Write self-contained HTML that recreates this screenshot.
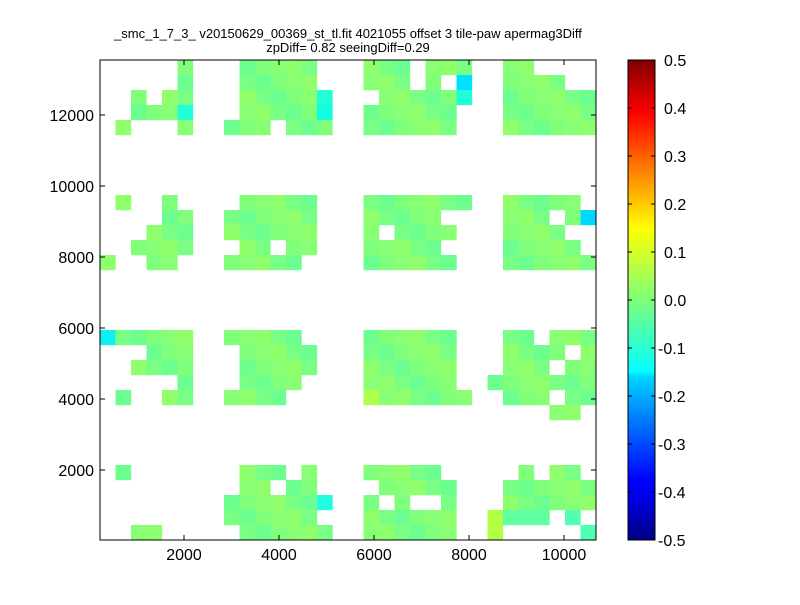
<!DOCTYPE html>
<html><head><meta charset="utf-8"><style>
body{margin:0;background:#fff;}
svg{font-family:"Liberation Sans",sans-serif;}
</style></head><body>
<svg id="s" width="800" height="600" xmlns="http://www.w3.org/2000/svg">
<defs><linearGradient id="jet" x1="0" y1="1" x2="0" y2="0">
<stop offset="0" stop-color="#000080"/><stop offset="0.11" stop-color="#0000ff"/>
<stop offset="0.125" stop-color="#0000ff"/><stop offset="0.34" stop-color="#00d4ff"/>
<stop offset="0.35" stop-color="#0ff"/><stop offset="0.5" stop-color="#7dff7a"/>
<stop offset="0.65" stop-color="#ff0"/><stop offset="0.89" stop-color="#f00"/>
<stop offset="1" stop-color="#800000"/></linearGradient></defs>
<rect width="800" height="600" fill="#fff"/>
<g id="cells"></g>
<rect x="100" y="60" width="496" height="480" fill="none" stroke="#000" stroke-width="1"/>
<g stroke="#000">
<line x1="184" y1="540" x2="184" y2="535"/><line x1="279" y1="540" x2="279" y2="535"/><line x1="374" y1="540" x2="374" y2="535"/><line x1="469" y1="540" x2="469" y2="535"/><line x1="564" y1="540" x2="564" y2="535"/>
<line x1="184" y1="60" x2="184" y2="65"/><line x1="279" y1="60" x2="279" y2="65"/><line x1="374" y1="60" x2="374" y2="65"/><line x1="469" y1="60" x2="469" y2="65"/><line x1="564" y1="60" x2="564" y2="65"/>
<line x1="100" y1="470" x2="105" y2="470"/><line x1="100" y1="399" x2="105" y2="399"/><line x1="100" y1="328" x2="105" y2="328"/><line x1="100" y1="257" x2="105" y2="257"/><line x1="100" y1="186" x2="105" y2="186"/><line x1="100" y1="115" x2="105" y2="115"/>
<line x1="596" y1="470" x2="591" y2="470"/><line x1="596" y1="399" x2="591" y2="399"/><line x1="596" y1="328" x2="591" y2="328"/><line x1="596" y1="257" x2="591" y2="257"/><line x1="596" y1="186" x2="591" y2="186"/><line x1="596" y1="115" x2="591" y2="115"/>
</g>
<g font-size="16" text-anchor="middle">
<text x="184" y="560">2000</text><text x="279" y="560">4000</text><text x="374" y="560">6000</text><text x="469" y="560">8000</text><text x="564" y="560">10000</text>
</g>
<g font-size="16" text-anchor="end">
<text x="94" y="476">2000</text><text x="94" y="405">4000</text><text x="94" y="334">6000</text><text x="94" y="263">8000</text><text x="94" y="192">10000</text><text x="94" y="121">12000</text>
</g>
<text x="348" y="38" font-size="13" text-anchor="middle">_smc_1_7_3_ v20150629_00369_st_tl.fit 4021055 offset 3 tile-paw apermag3Diff</text>
<text x="348" y="52" font-size="13" text-anchor="middle">zpDiff= 0.82 seeingDiff=0.29</text>
<rect x="628" y="60" width="27" height="480" fill="url(#jet)" stroke="#000"/>
<g stroke="#000" id="cbt"></g>
<g font-size="16" id="cbl"></g>
</svg>
<script>
var rows={
0:[[5],[9,13],[17,19],[21,23],[26,27]],
1:[[5],[9,13],[17,19],[21],[23,23,'#00e0ff'],[26,29]],
2:[[2],[4,5],[9,13],[14,14,'#20ffd8'],[18,22],[23,23,'#20ffd8'],[26,31]],
3:[[2,4],[5,5,'#20ffd8'],[9,13],[14,14,'#10ffe0'],[17,22],[26,31]],
4:[[1],[5],[8,10],[12,14],[17,22],[26,31]],
9:[[1],[4],[9,13],[17,23],[26,30]],
10:[[4,5],[8,13],[17,21],[26,28],[30],[31,31,'#00d8ff']],
11:[[3,5],[8,13],[17],[19,22],[26,29]],
12:[[2,5],[9,10],[12,13],[17,21],[26,30]],
13:[[0],[3,4],[8,12],[17,22],[26,31]],
18:[[0,0,'#10f0f0'],[1,5],[8,12],[17,22],[26,27],[29,31]],
19:[[3,5],[9,13],[17,22],[26,29],[31]],
20:[[2,5],[9,13],[17,22],[26,28],[30,31]],
21:[[5],[9,12],[17,22],[25,31]],
22:[[1],[4,5],[8,11],[17,17,'#b0ff48'],[18,23],[26,28],[30,31]],
23:[[29,30]],
27:[[1],[9,11],[13],[17,21],[27],[29,30]],
28:[[9,10],[12,13],[18,22],[26,31]],
29:[[8,13],[14,14,'#20ffe0'],[17],[19],[22],[26,31]],
30:[[8,13],[17,22],[25,25,'#b0ff40'],[26,28,'#60ffa0'],[30,30,'#50ffb0']],
31:[[2,3],[9,14],[17,22],[25,25,'#b0ff40'],[31,31,'#50ffb0']]
};
var pal=['#80ff7a','#78ff84','#88ff74','#6cff90','#90ff6c'];
var g=document.getElementById('cells'),h='';
for(var r in rows){rows[r].forEach(function(s,i){var a=s[0],b=s.length>1?s[1]:s[0];
for(var c=a;c<=b;c++){var col=s[2]||pal[(c*7+r*3)%5];
h+='<rect x="'+(100+15.5*c)+'" y="'+(60+15*r)+'" width="15.7" height="15.2" fill="'+col+'"/>';}});}
g.innerHTML=h;
var t='',l='';
for(var i=0;i<=10;i++){var y=60+48*i,v=(0.5-0.1*i).toFixed(1);if(v=='-0.0')v='0.0';
t+='<line x1="628" y1="'+y+'" x2="632" y2="'+y+'"/><line x1="655" y1="'+y+'" x2="651" y2="'+y+'"/>';
l+='<text x="'+(v[0]=='-'?658:664)+'" y="'+(y+6)+'">'+v+'</text>';}
document.getElementById('cbt').innerHTML=t;document.getElementById('cbl').innerHTML=l;
</script>
</body></html>
